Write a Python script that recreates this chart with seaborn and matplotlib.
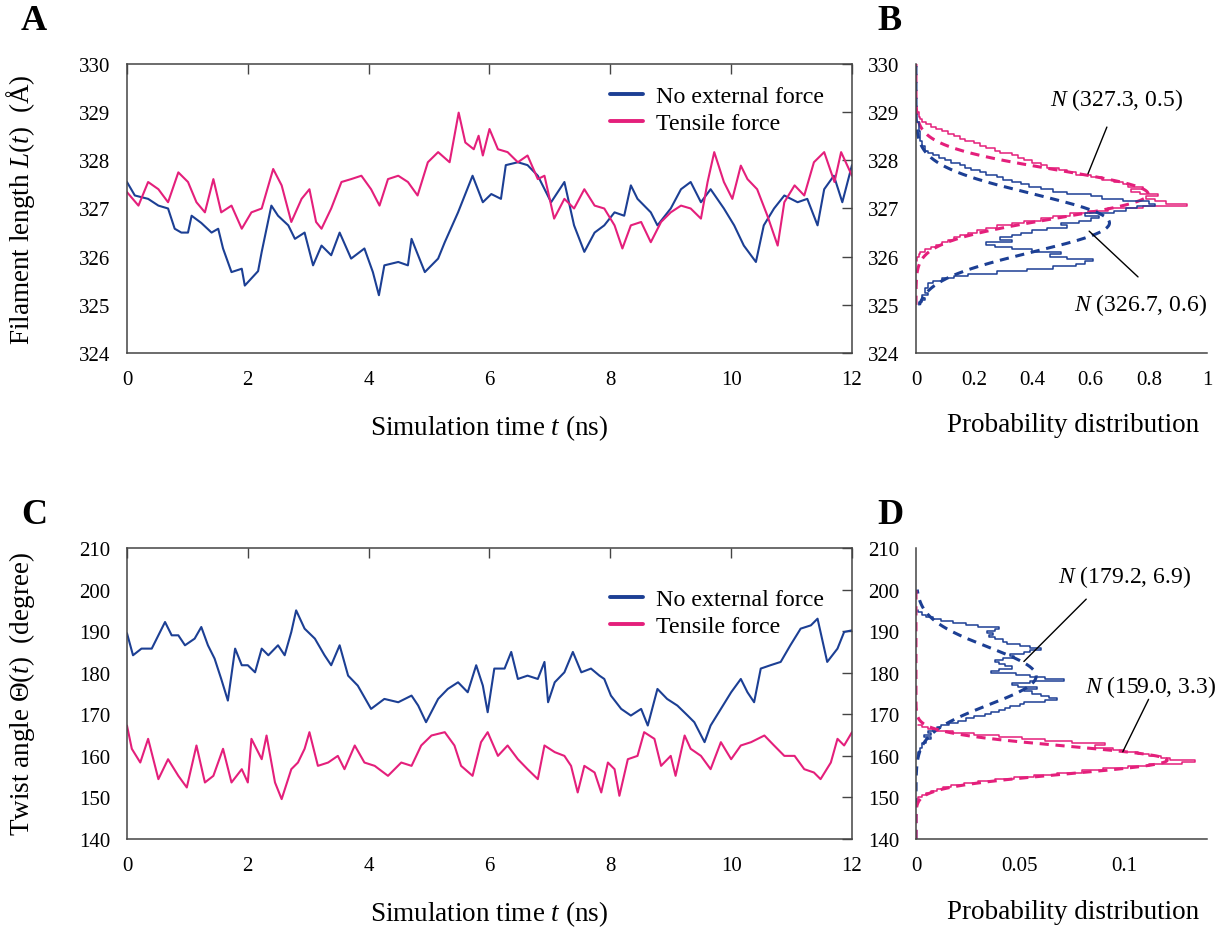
"""
Filament length / twist angle traces with their probability distributions.
Panels A-D, values read off the published figure.
"""

import numpy as np
import matplotlib
matplotlib.use("Agg")
import matplotlib.pyplot as plt
import seaborn as sns

# -------------------------------
# 1. DATA
# -------------------------------
# A: filament length L(t), no external force
LEN_T_FREE = [0.0, 0.13, 0.35, 0.52, 0.68, 0.79, 0.9, 1.01, 1.07, 1.23, 1.4, 1.51, 1.59, 1.73, 1.9,
              1.95, 2.17, 2.23, 2.39, 2.5, 2.67, 2.78, 2.94, 3.08, 3.22, 3.38, 3.52, 3.71, 3.93, 4.07,
              4.17, 4.26, 4.49, 4.65, 4.71, 4.93, 5.15, 5.26, 5.48, 5.72, 5.89, 6.03, 6.19, 6.27, 6.47,
              6.63, 6.8, 7.02, 7.24, 7.4, 7.57, 7.74, 7.9, 8.07, 8.23, 8.34, 8.45, 8.67, 8.78, 9.0,
              9.17, 9.33, 9.5, 9.66, 9.88, 10.05, 10.21, 10.41, 10.54, 10.71, 10.88, 11.1, 11.26,
              11.43, 11.54, 11.7, 11.84, 12.0]
LEN_FREE = [327.55, 327.27, 327.2, 327.06, 327.0, 326.58, 326.5, 326.5, 326.85, 326.7, 326.5, 326.58,
            326.17, 325.68, 325.75, 325.4, 325.7, 326.1, 327.06, 326.85, 326.65, 326.37, 326.5, 325.82,
            326.23, 326.03, 326.5, 325.96, 326.17, 325.68, 325.2, 325.82, 325.89, 325.82, 326.37,
            325.68, 325.96, 326.3, 326.92, 327.68, 327.13, 327.3, 327.2, 327.9, 327.96, 327.9, 327.68,
            327.13, 327.55, 326.65, 326.1, 326.5, 326.65, 326.92, 326.85, 327.48, 327.2, 326.92,
            326.65, 327.0, 327.4, 327.55, 327.13, 327.4, 327.0, 326.65, 326.23, 325.89, 326.65, 327.0,
            327.27, 327.13, 327.2, 326.65, 327.4, 327.68, 327.13, 327.9]

# A: filament length L(t), tensile force
LEN_T_TENS = [0.0, 0.19, 0.35, 0.52, 0.68, 0.85, 1.01, 1.15, 1.29, 1.43, 1.56, 1.73, 1.9, 2.06, 2.23,
              2.42, 2.56, 2.72, 2.89, 3.02, 3.13, 3.22, 3.38, 3.55, 3.71, 3.88, 4.04, 4.18, 4.32, 4.49,
              4.65, 4.81, 4.98, 5.15, 5.34, 5.49, 5.6, 5.74, 5.82, 5.89, 6.0, 6.14, 6.3, 6.47, 6.63,
              6.8, 6.91, 7.07, 7.24, 7.4, 7.57, 7.74, 7.9, 8.07, 8.2, 8.34, 8.51, 8.67, 8.84, 9.0,
              9.17, 9.33, 9.5, 9.61, 9.72, 9.88, 10.02, 10.16, 10.27, 10.43, 10.6, 10.77, 10.88,
              11.05, 11.21, 11.37, 11.54, 11.71, 11.82, 12.0]
LEN_TENS = [327.34, 327.06, 327.55, 327.4, 327.13, 327.75, 327.55, 327.13, 326.92, 327.61, 326.92,
            327.06, 326.58, 326.92, 327.0, 327.82, 327.48, 326.72, 327.2, 327.4, 326.72, 326.58, 327.0,
            327.55, 327.61, 327.68, 327.4, 327.06, 327.61, 327.68, 327.55, 327.27, 327.96, 328.17,
            327.96, 328.99, 328.37, 328.23, 328.51, 328.1, 328.65, 328.23, 328.17, 327.96, 328.1,
            327.61, 327.68, 326.79, 327.2, 327.0, 327.4, 327.06, 327.0, 326.65, 326.17, 326.65, 326.72,
            326.3, 326.72, 326.92, 327.06, 327.0, 326.79, 327.55, 328.17, 327.55, 327.2, 327.89,
            327.61, 327.4, 326.85, 326.23, 327.13, 327.48, 327.27, 327.96, 328.17, 327.55, 328.17,
            327.68]

# C: twist angle, no external force
ANG_T_FREE = [0.0, 0.1, 0.24, 0.41, 0.52, 0.63, 0.74, 0.85, 0.96, 1.12, 1.23, 1.34, 1.45, 1.56, 1.67,
              1.79, 1.9, 2.0, 2.12, 2.23, 2.34, 2.5, 2.61, 2.72, 2.8, 2.94, 3.11, 3.27, 3.38, 3.52,
              3.66, 3.82, 4.04, 4.26, 4.49, 4.71, 4.82, 4.95, 5.15, 5.31, 5.48, 5.64, 5.78, 5.89, 5.97,
              6.08, 6.25, 6.36, 6.47, 6.63, 6.8, 6.91, 6.97, 7.08, 7.24, 7.38, 7.52, 7.68, 7.82, 7.9,
              8.01, 8.18, 8.34, 8.51, 8.62, 8.78, 8.94, 9.11, 9.28, 9.39, 9.56, 9.66, 9.83, 10.0,
              10.16, 10.27, 10.38, 10.49, 10.65, 10.82, 10.98, 11.15, 11.32, 11.43, 11.59, 11.76,
              11.87, 12.0]
ANG_FREE = [189.5, 184.2, 185.8, 185.8, 189.0, 192.2, 189.0, 189.0, 186.6, 188.2, 191.0, 186.6, 183.4,
            178.5, 173.3, 185.8, 181.8, 181.8, 180.1, 185.8, 184.2, 186.6, 184.2, 189.8, 195.0, 190.6,
            188.2, 184.2, 181.8, 186.6, 179.3, 176.9, 171.3, 173.7, 172.9, 174.5, 172.1, 168.1, 173.7,
            176.1, 177.7, 175.3, 181.8, 176.9, 170.5, 181.0, 181.0, 185.0, 178.5, 179.3, 178.5, 182.6,
            172.9, 177.7, 180.1, 185.0, 180.1, 181.0, 179.3, 178.5, 174.5, 171.3, 169.7, 171.3, 167.3,
            176.1, 173.7, 172.1, 169.7, 168.1, 163.3, 167.3, 171.3, 175.3, 178.5, 175.3, 172.9, 181.0,
            181.8, 182.6, 186.6, 190.6, 191.4, 193.0, 182.6, 185.8, 189.8, 190.2]

# C: twist angle, tensile force
ANG_T_TENS = [0.0, 0.08, 0.22, 0.35, 0.52, 0.68, 0.85, 0.99, 1.15, 1.29, 1.43, 1.59, 1.73, 1.9, 2.0,
              2.06, 2.23, 2.31, 2.45, 2.56, 2.72, 2.83, 2.94, 3.02, 3.16, 3.33, 3.49, 3.6, 3.77, 3.93,
              4.1, 4.32, 4.54, 4.71, 4.87, 5.04, 5.26, 5.42, 5.53, 5.72, 5.86, 5.97, 6.14, 6.3, 6.47,
              6.63, 6.8, 6.91, 7.08, 7.24, 7.35, 7.46, 7.57, 7.74, 7.85, 7.96, 8.07, 8.15, 8.29, 8.45,
              8.56, 8.73, 8.84, 9.0, 9.08, 9.23, 9.33, 9.5, 9.66, 9.83, 10.0, 10.16, 10.33, 10.55,
              10.71, 10.88, 11.05, 11.21, 11.37, 11.48, 11.65, 11.76, 11.87, 12.0]
ANG_TENS = [167.3, 161.7, 158.4, 164.1, 154.4, 159.2, 155.2, 152.4, 162.5, 153.6, 155.2, 161.7, 153.6,
            156.8, 153.6, 164.1, 159.2, 164.9, 153.6, 149.6, 156.8, 158.4, 161.7, 165.7, 157.6, 158.4,
            160.0, 156.8, 162.5, 158.4, 157.6, 155.2, 158.4, 157.6, 162.5, 164.9, 165.7, 162.5, 157.6,
            155.2, 163.3, 165.7, 160.0, 162.5, 159.2, 156.8, 154.4, 162.5, 160.9, 160.0, 157.6, 151.2,
            157.6, 156.0, 151.2, 158.4, 156.8, 150.4, 159.2, 160.0, 165.7, 164.1, 157.6, 160.0, 155.2,
            164.9, 161.7, 160.0, 156.8, 163.3, 159.2, 162.5, 163.3, 164.9, 162.5, 160.0, 160.0, 156.8,
            156.0, 154.4, 158.4, 164.1, 162.5, 165.7]

# B: length histograms (length bin, probability)
HIST_LEN_TENS = [325.9, 326.0, 326.05, 326.1, 326.15, 326.2, 326.25, 326.3, 326.35, 326.4, 326.45,
                 326.5, 326.55, 326.6, 326.65, 326.7, 326.75, 326.8, 326.85, 326.9, 326.95, 327.0,
                 327.05, 327.1, 327.15, 327.2, 327.25, 327.3, 327.35, 327.4, 327.45, 327.5, 327.55,
                 327.6, 327.65, 327.7, 327.75, 327.8, 327.85, 327.9, 327.95, 328.0, 328.05, 328.1,
                 328.15, 328.2, 328.25, 328.3, 328.35, 328.4, 328.45, 328.5, 328.55, 328.6, 328.65,
                 328.7, 328.75, 328.8, 328.85, 328.9, 329.0]
PROB_LEN_TENS = [0.005, 0.01, 0.015, 0.03, 0.05, 0.07, 0.09, 0.11, 0.13, 0.15, 0.18, 0.21, 0.24, 0.28,
                 0.33, 0.37, 0.43, 0.47, 0.53, 0.59, 0.66, 0.78, 0.93, 0.86, 0.82, 0.79, 0.83, 0.77,
                 0.74, 0.78, 0.73, 0.71, 0.68, 0.64, 0.60, 0.55, 0.52, 0.49, 0.45, 0.43, 0.40, 0.37,
                 0.35, 0.33, 0.29, 0.27, 0.24, 0.22, 0.20, 0.17, 0.15, 0.13, 0.11, 0.09, 0.07, 0.05,
                 0.035, 0.02, 0.015, 0.01, 0.005]
HIST_LEN_FREE = [325.0, 325.05, 325.1, 325.15, 325.2, 325.25, 325.3, 325.35, 325.4, 325.45, 325.5,
                 325.55, 325.6, 325.65, 325.7, 325.75, 325.8, 325.85, 325.9, 325.95, 326.0, 326.05,
                 326.1, 326.15, 326.2, 326.25, 326.3, 326.35, 326.4, 326.45, 326.5, 326.55, 326.6,
                 326.65, 326.7, 326.75, 326.8, 326.85, 326.9, 326.95, 327.0, 327.05, 327.1, 327.15,
                 327.2, 327.25, 327.3, 327.35, 327.4, 327.45, 327.5, 327.55, 327.6, 327.65, 327.7,
                 327.75, 327.8, 327.85, 327.9, 327.95, 328.0, 328.05, 328.1, 328.15, 328.2, 328.3,
                 328.4, 328.6, 328.8]
PROB_LEN_FREE = [0.01, 0.02, 0.03, 0.02, 0.04, 0.03, 0.03, 0.04, 0.04, 0.06, 0.09, 0.13, 0.18, 0.28,
                 0.38, 0.47, 0.55, 0.58, 0.61, 0.52, 0.46, 0.50, 0.40, 0.33, 0.27, 0.24, 0.33, 0.29,
                 0.33, 0.36, 0.40, 0.45, 0.52, 0.50, 0.56, 0.60, 0.63, 0.58, 0.68, 0.72, 0.76, 0.82,
                 0.80, 0.71, 0.64, 0.60, 0.52, 0.47, 0.43, 0.39, 0.36, 0.33, 0.30, 0.28, 0.24, 0.22,
                 0.19, 0.17, 0.15, 0.12, 0.10, 0.08, 0.06, 0.04, 0.03, 0.02, 0.015, 0.01, 0.005]

# D: twist angle histograms (angle bin, probability)
HIST_ANG_TENS = [149.5, 150.0, 150.5, 151.0, 151.5, 152.0, 152.5, 153.0, 153.5, 154.0, 154.5, 155.0,
                 155.5, 156.0, 156.5, 157.0, 157.5, 158.0, 158.5, 159.0, 159.5, 160.0, 160.5, 161.0,
                 161.5, 162.0, 162.5, 163.0, 163.5, 164.0, 164.5, 165.0, 165.5, 166.0, 166.5, 167.0,
                 167.5]
PROB_ANG_TENS = [0.001, 0.003, 0.005, 0.007, 0.010, 0.013, 0.017, 0.023, 0.030, 0.038, 0.047, 0.057,
                 0.068, 0.080, 0.090, 0.102, 0.112, 0.128, 0.134, 0.122, 0.118, 0.112, 0.107, 0.100,
                 0.095, 0.086, 0.091, 0.075, 0.062, 0.051, 0.040, 0.028, 0.018, 0.010, 0.006, 0.003,
                 0.001]
HIST_ANG_FREE = [160.0, 161.0, 162.0, 163.0, 164.0, 164.5, 165.0, 165.5, 166.0, 166.5, 167.0, 167.5,
                 168.0, 168.5, 169.0, 169.5, 170.0, 170.5, 171.0, 171.5, 172.0, 172.5, 173.0, 173.5,
                 174.0, 174.5, 175.0, 175.5, 176.0, 176.5, 177.0, 177.5, 178.0, 178.5, 179.0, 179.5,
                 180.0, 180.5, 181.0, 181.5, 182.0, 182.5, 183.0, 183.5, 184.0, 184.5, 185.0, 185.5,
                 186.0, 186.5, 187.0, 187.5, 188.0, 188.5, 189.0, 189.5, 190.0, 190.5, 191.0, 191.5,
                 192.0, 192.5, 193.0, 193.5, 194.0, 194.5, 195.0]
PROB_ANG_FREE = [0.001, 0.002, 0.003, 0.005, 0.007, 0.004, 0.007, 0.006, 0.008, 0.010, 0.012, 0.016,
                 0.020, 0.024, 0.028, 0.033, 0.036, 0.040, 0.043, 0.045, 0.050, 0.052, 0.062, 0.068,
                 0.064, 0.060, 0.056, 0.052, 0.058, 0.049, 0.046, 0.055, 0.071, 0.062, 0.055, 0.048,
                 0.036, 0.040, 0.046, 0.043, 0.040, 0.038, 0.042, 0.047, 0.045, 0.052, 0.055, 0.060,
                 0.055, 0.050, 0.044, 0.042, 0.038, 0.035, 0.037, 0.034, 0.038, 0.040, 0.030, 0.024,
                 0.018, 0.012, 0.008, 0.005, 0.003, 0.001, 0.001]

# normal fits quoted in the figure: (mean, sd)
FIT_LEN_TENS = (327.3, 0.5)
FIT_LEN_FREE = (326.7, 0.6)
FIT_ANG_FREE = (179.2, 6.9)
FIT_ANG_TENS = (159.0, 3.3)

BLUE = '#1c3f94'
PINK = '#e41f7b'

# -------------------------------
# 2. STYLE
# -------------------------------
sns.set_style("white")
plt.rcParams['font.family'] = ['Liberation Serif', 'DejaVu Serif']
plt.rcParams['mathtext.fontset'] = 'custom'
plt.rcParams['mathtext.rm'] = 'Liberation Serif'
plt.rcParams['mathtext.it'] = 'Liberation Serif:italic'
plt.rcParams['axes.edgecolor'] = '#444444'
plt.rcParams['axes.linewidth'] = 1.1
for key in ['text.color', 'axes.labelcolor', 'xtick.labelcolor', 'ytick.labelcolor']:
    plt.rcParams[key] = 'black'

TICK_FS = 15
LABEL_FS = 19.5
NOTE_FS = 17


def normal_pdf(y, mu, sd):
    return np.exp(-0.5 * ((y - mu) / sd) ** 2) / (sd * np.sqrt(2 * np.pi))


def style_trace_axes(ax, ylim, yticks):
    ax.set_xlim(0, 12)
    ax.set_ylim(*ylim)
    ax.set_xticks(range(0, 13, 2))
    ax.set_yticks(yticks)
    ax.tick_params(direction='in', top=True, right=True, length=7, width=1,
                   color='#444444', labelsize=TICK_FS, pad=12)
    ax.set_xlabel(r'Simulation time $t$ (ns)', fontsize=LABEL_FS)
    ax.xaxis.set_label_coords(0.5, -0.205)
    ax.yaxis.set_label_coords(-0.124, 0.5)


def style_hist_axes(ax, xlim, xticks, xticklabels, ylim, yticks):
    ax.set_xlim(*xlim)
    ax.set_ylim(*ylim)
    ax.set_xticks(xticks)
    ax.set_xticklabels(xticklabels)
    ax.set_yticks(yticks)
    for side in ['top', 'right']:
        ax.spines[side].set_visible(False)
    ax.tick_params(direction='in', length=7, width=1, color='#444444',
                   labelsize=TICK_FS, pad=12)
    ax.set_xlabel('Probability distribution', fontsize=LABEL_FS)
    ax.xaxis.set_label_coords(0.54, -0.205)
    ax.set_ylabel('')


def draw_hist(ax, levels, probs, fit, color, grid):
    sns.lineplot(x=probs, y=levels, estimator=None, sort=False, color=color,
                 lw=1.1, drawstyle='steps-pre', ax=ax)
    sns.lineplot(x=normal_pdf(grid, *fit), y=grid, estimator=None, sort=False,
                 color=color, lw=2.2, linestyle=(0, (3, 2.2)), ax=ax)


def style_legend(ax, anchor):
    ax.legend(loc='upper left', bbox_to_anchor=anchor, frameon=False, fontsize=17.3,
              handlelength=1.35, handletextpad=0.55, borderpad=0, labelspacing=0.2)
    for line in ax.get_legend().get_lines():
        line.set_linewidth(2.8)


fig = plt.figure(figsize=(12.28, 9.28), dpi=100)
ax_a = fig.add_axes([0.1034, 0.6185, 0.5904, 0.3115])
ax_b = fig.add_axes([0.7459, 0.6185, 0.2370, 0.3115])
ax_c = fig.add_axes([0.1034, 0.0948, 0.5904, 0.3136])
ax_d = fig.add_axes([0.7459, 0.0948, 0.2370, 0.3136])

# -------------------------------
# 3. PANEL A - length traces
# -------------------------------
sns.lineplot(x=LEN_T_FREE, y=LEN_FREE, color=BLUE, lw=1.5, label='No external force', ax=ax_a)
sns.lineplot(x=LEN_T_TENS, y=LEN_TENS, color=PINK, lw=1.5, label='Tensile force', ax=ax_a)
style_trace_axes(ax_a, (324, 330), range(324, 331))
ax_a.set_ylabel(r'Filament length $L(t)$  (Å)', fontsize=LABEL_FS)
style_legend(ax_a, (0.650, 0.967))

# -------------------------------
# 4. PANEL B - length distributions
# -------------------------------
len_grid = np.linspace(325.0, 330.0, 300)
draw_hist(ax_b, HIST_LEN_TENS, PROB_LEN_TENS, FIT_LEN_TENS, PINK, len_grid)
draw_hist(ax_b, HIST_LEN_FREE, PROB_LEN_FREE, FIT_LEN_FREE, BLUE, len_grid)
style_hist_axes(ax_b, (0, 1), [0, 0.2, 0.4, 0.6, 0.8, 1],
                ['0', '0.2', '0.4', '0.6', '0.8', '1'], (324, 330), range(324, 331))
ax_b.text(0.69, 329.27, r'$N$ (327.3, 0.5)', fontsize=NOTE_FS, ha='center', va='center')
ax_b.plot([0.656, 0.591], [328.69, 327.72], color='black', lw=1)
ax_b.text(0.77, 325.02, r'$N$ (326.7, 0.6)', fontsize=NOTE_FS, ha='center', va='center')
ax_b.plot([0.763, 0.595], [325.58, 326.53], color='black', lw=1)

# -------------------------------
# 5. PANEL C - twist traces
# -------------------------------
sns.lineplot(x=ANG_T_FREE, y=ANG_FREE, color=BLUE, lw=1.5, label='No external force', ax=ax_c)
sns.lineplot(x=ANG_T_TENS, y=ANG_TENS, color=PINK, lw=1.5, label='Tensile force', ax=ax_c)
style_trace_axes(ax_c, (140, 210), range(140, 211, 10))
ax_c.set_ylabel(r'Twist angle $\Theta(t)$  (degree)', fontsize=LABEL_FS)
style_legend(ax_c, (0.650, 0.902))

# -------------------------------
# 6. PANEL D - twist distributions
# -------------------------------
ang_grid = np.linspace(140.0, 200.0, 400)
draw_hist(ax_d, HIST_ANG_FREE, PROB_ANG_FREE, FIT_ANG_FREE, BLUE, ang_grid)
draw_hist(ax_d, HIST_ANG_TENS, PROB_ANG_TENS, FIT_ANG_TENS, PINK, ang_grid)
style_hist_axes(ax_d, (0, 0.14), [0, 0.05, 0.1], ['0', '0.05', '0.1'],
                (140, 210), range(140, 211, 10))
ax_d.text(0.1002, 203.2, r'$N$ (179.2, 6.9)', fontsize=NOTE_FS, ha='center', va='center')
ax_d.plot([0.0819, 0.0519], [197.7, 182.7], color='black', lw=1)
ax_d.text(0.1131, 176.7, r'$N$ (159.0, 3.3)', fontsize=NOTE_FS, ha='center', va='center')
ax_d.plot([0.1119, 0.0995], [173.6, 161.0], color='black', lw=1)

# panel letters
for letter, (x, y) in zip('ABCD', [(34, 22), (890, 22), (34, 516), (890, 516)]):
    fig.text(x / 1228, 1 - y / 928, letter, fontsize=26, fontweight='bold',
             ha='center', va='center')

fig.savefig('out.png', dpi=100)
